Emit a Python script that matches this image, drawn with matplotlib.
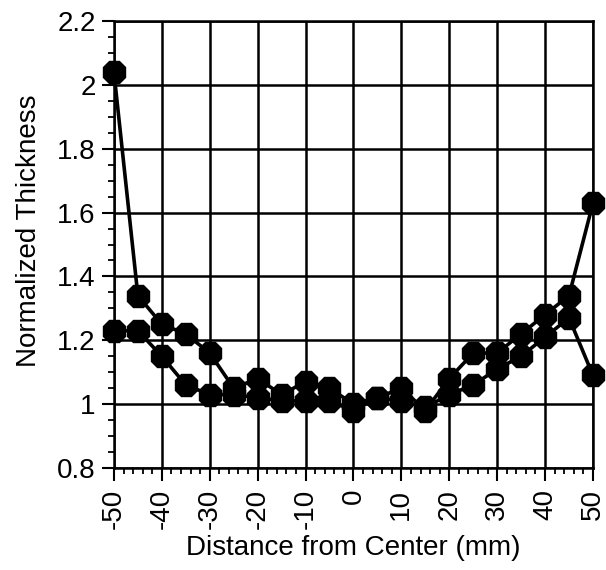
import matplotlib
matplotlib.use("Agg")
import matplotlib.pyplot as plt
from matplotlib.ticker import MultipleLocator, FuncFormatter

distance_mm = [-50, -45, -40, -35, -30, -25, -20, -15, -10, -5, 0,
               5, 10, 15, 20, 25, 30, 35, 40, 45, 50]
thickness_a = [2.04, 1.34, 1.25, 1.22, 1.16, 1.05, 1.08, 1.03, 1.07, 1.05, 1.00,
               1.02, 1.05, 0.98, 1.08, 1.16, 1.16, 1.22, 1.28, 1.34, 1.63]
thickness_b = [1.23, 1.23, 1.15, 1.06, 1.03, 1.03, 1.02, 1.01, 1.01, 1.01, 0.98,
               1.02, 1.01, 0.99, 1.03, 1.06, 1.11, 1.15, 1.21, 1.27, 1.09]
x_ticks = [-50, -40, -30, -20, -10, 0, 10, 20, 30, 40, 50]
y_ticks = [0.8, 1.0, 1.2, 1.4, 1.6, 1.8, 2.0, 2.2]

plt.rcParams['font.family'] = ['Liberation Sans', 'DejaVu Sans']

fig = plt.figure(figsize=(6.06, 5.70), dpi=100)
ax = fig.add_axes([0.188, 0.179, 0.9785 - 0.188, 0.963 - 0.179])

for series in (thickness_b, thickness_a):
    ax.plot(distance_mm, series, color='black', lw=2.6, marker='8',
            markersize=17, markerfacecolor='black', markeredgecolor='black',
            clip_on=False, zorder=5)

ax.set_xlim(-50, 50)
ax.set_ylim(0.8, 2.2)
ax.set_xticks(x_ticks)
ax.set_yticks(y_ticks)
ax.xaxis.set_minor_locator(MultipleLocator(2))
ax.yaxis.set_minor_locator(MultipleLocator(0.05))
ax.yaxis.set_major_formatter(FuncFormatter(lambda v, p: f"{v:g}"))
ax.xaxis.set_major_formatter(FuncFormatter(lambda v, p: f"{v:g}"))

ax.grid(True, which='major', color='black', lw=1.8)
ax.set_axisbelow(True)
for s in ax.spines.values():
    s.set_linewidth(1.8)
    s.set_color('black')

ax.tick_params(axis='both', which='major', direction='out', length=9, width=1.5,
               labelsize=20, colors='black')
ax.tick_params(axis='both', which='minor', direction='out', length=4.5, width=1.3)
ax.tick_params(axis='x', which='major', labelrotation=90, pad=6)
ax.tick_params(axis='y', which='major', pad=4)

ax.set_xlabel('Distance from Center (mm)', fontsize=20, labelpad=4)
ax.set_ylabel('Normalized Thickness', fontsize=20)
ax.yaxis.set_label_coords(-0.15, 0.53)

fig.savefig('out.png', dpi=100)
